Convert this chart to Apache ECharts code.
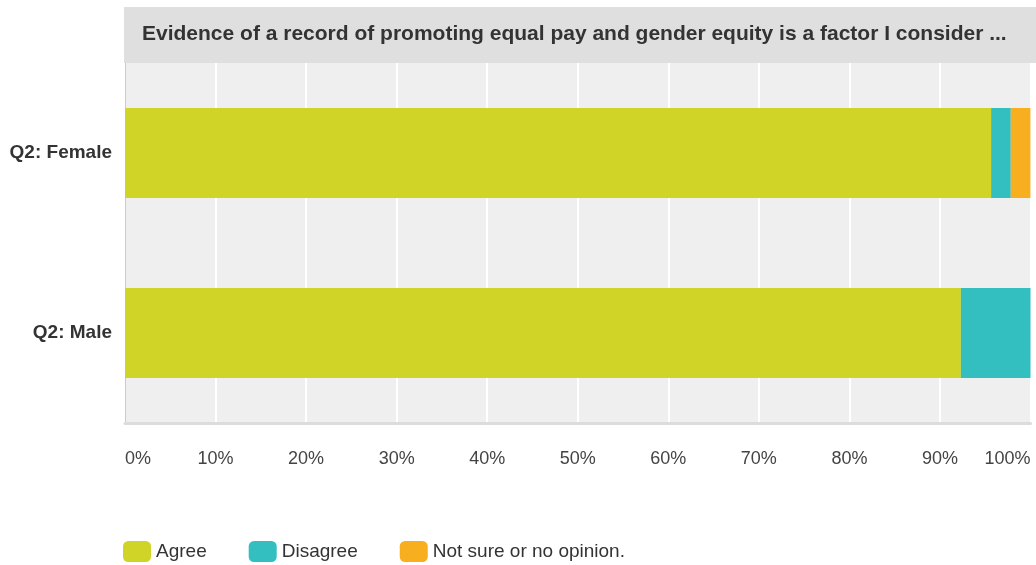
<!DOCTYPE html>
<html><head><meta charset="utf-8">
<script src="https://cdn.jsdelivr.net/npm/echarts@6/dist/echarts.min.js"></script>
<style>html,body{margin:0;padding:0;background:#fff}#c{width:1036px;height:565px}</style>
</head><body><div id="c"></div>
<script>
const categories = ['Q2: Female', 'Q2: Male'];
const agree = [95.65, 92.31];
const disagree = [2.17, 7.69];
const notSure = [2.17, 0];
const seriesNames = ['Agree', 'Disagree', 'Not sure or no opinion.'];
const tickValues = [0,10,20,30,40,50,60,70,80,90,100];
const titleText = 'Evidence of a record of promoting equal pay and gender equity is a factor I consider ...';
const colors = ['#cfd426', '#33bec0', '#f7ae1f'];

const chart = echarts.init(document.getElementById('c'));
const mk = (name, data, i) => ({
  name, type: 'bar', stack: 'total', data, barWidth: 90,
  itemStyle: { color: colors[i] }, emphasis: { disabled: true }
});
chart.setOption({
  animation: false,
  textStyle: { fontFamily: 'Liberation Sans, Arial, sans-serif' },
  graphic: [{ type: 'rect', left: 124, top: 7, shape: { width: 912, height: 56 }, style: { fill: '#dfdfdf' }, z: -1 }],
  title: {
    text: titleText, left: 137, top: 19,
    textStyle: { fontSize: 21, fontWeight: 'bold', color: '#333' }
  },
  grid: { left: 125, right: 5.5, top: 63, bottom: 142, show: true, backgroundColor: '#efefef', borderWidth: 0, containLabel: false },
  legend: {
    data: seriesNames, left: 123, top: 541, padding: 0, itemWidth: 28, itemHeight: 21, icon: 'roundRect',
    itemGap: 42, textStyle: { fontSize: 19, color: '#333' }, selectedMode: false
  },
  xAxis: {
    type: 'value', min: 0, max: 100, interval: 10,
    axisLine: { show: true, lineStyle: { color: '#dcdcdc', width: 3 } },
    axisTick: { show: false },
    splitLine: { show: true, lineStyle: { color: '#ffffff', width: 2 } },
    axisLabel: { formatter: v => v + '%', fontSize: 18, color: '#444', margin: 27, alignMinLabel: 'left', alignMaxLabel: 'right' }
  },
  yAxis: {
    type: 'category', data: categories, inverse: true,
    axisLine: { show: true, lineStyle: { color: '#cccccc', width: 1 } },
    axisTick: { show: false },
    axisLabel: { fontSize: 19, fontWeight: 'bold', color: '#333', margin: 13 }
  },
  series: [mk(seriesNames[0], agree, 0), mk(seriesNames[1], disagree, 1), mk(seriesNames[2], notSure, 2)]
});
</script></body></html>
